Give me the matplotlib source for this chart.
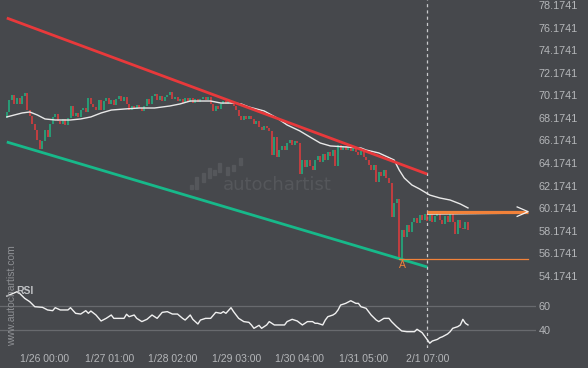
import numpy as np
import matplotlib.pyplot as plt
from matplotlib.collections import LineCollection
from matplotlib.patches import Rectangle

BG = '#46484c'
GREEN = '#1fb482'
RED = '#e53b3d'
ORANGE = '#f2823a'
TXT = '#b4b6b9'

# hourly candles, open of each bar = close of the bar before
first_open = 68.17
closes = [
    68.70, 69.76, 70.20, 69.41, 69.94, 69.41, 70.11, 70.38, 68.87, 68.34,
    67.63, 67.10, 66.22, 65.42, 66.13, 67.10, 66.48, 67.63, 68.25, 68.52,
    67.90, 67.63, 68.08, 67.55, 68.17, 69.23, 68.34, 68.61, 68.25, 68.87,
    69.05, 68.70, 69.94, 69.41, 69.14, 68.87, 69.76, 68.87, 69.67, 69.94,
    69.41, 69.76, 69.32, 69.85, 70.11, 69.67, 70.02, 69.41, 68.87, 69.23,
    68.96, 69.32, 69.05, 68.79, 69.23, 69.85, 69.41, 70.11, 70.29, 69.76,
    70.11, 69.67, 70.02, 70.20, 70.47, 69.85, 70.02, 69.67, 69.85, 69.49,
    69.94, 69.58, 69.94, 69.49, 69.85, 69.58, 69.85, 70.02, 69.76, 70.02,
    69.41, 68.79, 69.23, 68.96, 69.41, 69.67, 69.41, 69.67, 69.41, 69.23,
    68.87, 68.34, 67.99, 68.34, 68.08, 68.34, 68.08, 67.63, 67.90, 67.37,
    67.10, 67.46, 67.28, 67.02, 64.89, 66.48, 64.71, 65.33, 65.69, 65.33,
    65.95, 66.22, 65.78, 66.13, 65.95, 63.21, 64.45, 63.83, 64.45, 63.92,
    63.56, 64.45, 64.80, 64.27, 64.98, 64.45, 65.16, 64.80, 65.33, 63.92,
    65.78, 65.33, 65.69, 65.33, 65.60, 65.25, 65.51, 65.16, 64.89, 65.25,
    64.71, 64.45, 64.00, 63.56, 64.00, 62.50, 63.38, 63.03, 63.56, 62.85,
    62.41, 59.40, 60.63, 60.99, 55.70, 58.25, 57.62, 58.69, 58.07, 58.96,
    59.31, 58.87, 59.57, 59.13, 59.66, 59.05, 59.57, 58.96, 59.49, 59.75,
    59.13, 58.78, 59.49, 58.96, 59.66, 58.96, 57.90, 59.13, 58.43, 58.34,
    58.96, 58.25,
]

ma_idx = [0, 6, 9, 12, 15, 19, 25, 29, 33, 37, 41, 46, 52, 58, 64, 68, 72, 80,
          84, 89, 92, 95, 101, 106, 110, 115, 119, 123, 127, 133, 139, 141, 146,
          152, 154, 156, 159, 162, 166, 170, 174, 178, 181]
ma_val = [68.26, 68.61, 68.70, 68.43, 68.08, 67.99, 67.99, 68.08, 68.26, 68.61,
          68.87, 68.96, 69.05, 69.05, 69.23, 69.41, 69.67, 69.67, 69.49, 69.49,
          69.41, 69.14, 68.79, 68.17, 67.55, 67.02, 66.48, 65.95, 65.69, 65.60,
          65.51, 65.33, 65.07, 64.45, 63.56, 62.85, 62.23, 61.88, 61.34, 61.08,
          60.90, 60.55, 60.20]

rsi_idx = [0, 4, 5, 7, 9, 11, 14, 16, 18, 19, 21, 24, 25, 27, 29, 31, 32, 33,
           35, 37, 39, 41, 42, 46, 47, 48, 50, 51, 53, 55, 57, 59, 61, 63, 65,
           67, 69, 70, 72, 73, 75, 76, 78, 80, 82, 84, 85, 86, 88, 89, 91, 93,
           95, 96, 97, 99, 100, 102, 103, 105, 107, 109, 110, 112, 114, 116,
           117, 118, 120, 121, 122, 124, 125, 126, 128, 129, 130, 131, 133, 135,
           137, 138, 139, 141, 143, 145, 146, 148, 150, 151, 153, 155, 157, 160,
           161, 163, 165, 166, 167, 169, 170, 171, 173, 174, 175, 177, 178, 179,
           180, 181]
rsi_val = [68.3, 71.9, 70.6, 66.4, 63.6, 59.4, 58.9, 56.7, 56.1, 58.6, 56.7,
           56.7, 58.6, 53.9, 53.3, 56.1, 53.9, 55.8, 52.5, 47.5, 49.7, 52.5,
           49.7, 49.7, 53.1, 51.1, 52.5, 49.7, 47.0, 48.9, 52.5, 49.7, 54.7,
           55.3, 53.3, 53.3, 49.7, 48.3, 52.5, 48.9, 45.0, 48.3, 49.7, 49.7,
           54.7, 53.9, 55.3, 53.9, 58.6, 55.3, 49.7, 47.0, 46.4, 44.2, 41.4,
           43.9, 41.4, 44.2, 47.0, 44.2, 44.2, 44.2, 47.0, 48.9, 47.5, 44.2,
           45.6, 47.0, 47.0, 45.6, 45.6, 44.2, 48.3, 51.1, 52.5, 53.9, 56.7,
           60.8, 62.2, 64.4, 62.2, 62.2, 59.4, 58.1, 52.5, 48.3, 47.0, 49.7,
           49.7, 47.0, 42.8, 39.2, 38.6, 38.6, 40.6, 37.8, 32.0, 29.0, 30.8,
           32.2, 33.6, 34.4, 36.7, 38.6, 41.4, 42.8, 44.2, 48.9, 45.6, 44.2]

chan_idx = [0, 165]
upper_chan = [77.02, 63.20]
lower_chan = [66.04, 54.97]

resistance = 59.87
a_low = 55.67
a_idx = 154
signal_idx = 165
arrow_end = 204.6

price_ticks = np.arange(54.1741, 78.2, 2)
rsi_ticks = [40, 60]
time_idx = [15, 40.5, 65, 90.3, 115, 140.2, 165]
time_labels = ['1/26 00:00', '1/27 01:00', '1/28 02:00', '1/29 03:00',
               '1/30 04:00', '1/31 05:00', '2/1 07:00']

plt.rcParams['font.family'] = ['Liberation Sans', 'DejaVu Sans']

W, H = 588, 368
fig = plt.figure(figsize=(W / 100, H / 100), dpi=100, facecolor=BG)
ax = fig.add_axes([0, 1 - 288 / H, 536 / W, 288 / H], facecolor=BG)
rax = fig.add_axes([0, 1 - 348 / H, 536 / W, 60 / H], facecolor=BG, sharex=ax)

for a in (ax, rax):
    for s in a.spines.values():
        s.set_visible(False)
    a.yaxis.tick_right()
    a.tick_params(axis='y', length=0, pad=2, labelsize=7.8, labelcolor=TXT)
    a.set_xlim(-2.67, 207.7)

# watermark logo + text (drawn first so everything sits on top)
def px_rect(x, y, w, h):
    fig.patches.append(Rectangle((x / W, 1 - (y + h) / H), w / W, h / H,
                                 transform=fig.transFigure, color='#55575b',
                                 zorder=0))

logo = [(190, 185, 4), (195, 177, 12), (202, 173, 9), (208, 168, 10),
        (213, 170, 5), (218, 163, 9), (226, 167, 8), (232, 165, 6),
        (239, 158, 7)]
for x, y, h in logo:
    px_rect(x, y, 3, h)
fig.text(223 / W, 1 - 185 / H, 'autochartist', color='#55575b', fontsize=13,
         family='DejaVu Sans', va='center', ha='left', zorder=0)

# candles
closes = np.array(closes)
opens = np.concatenate([[first_open], closes[:-1]])
idx = np.arange(len(closes))
cols = np.where(closes >= opens, GREEN, RED)
ax.vlines(idx, opens, closes, colors=cols, linewidth=1.1, zorder=3)

ax.plot(ma_idx, ma_val, color='#e8e8e8', lw=1.0, zorder=4)

# channel
ax.plot(chan_idx, upper_chan, color='#e8393b', lw=2.0, zorder=5,
        solid_capstyle='butt')
ax.plot(chan_idx, lower_chan, color='#17b98a', lw=2.0, zorder=5,
        solid_capstyle='butt')

# breakout level + arrow
xs = np.linspace(signal_idx, arrow_end - 10, 40)
segs = [[(xs[k], resistance - 0.22), (xs[k + 1], resistance - 0.22)]
        for k in range(len(xs) - 1)]
lc = LineCollection(segs, colors=[(1, 1, 1, 0.9 * (1 - k / len(segs)))
                                  for k in range(len(segs))], linewidths=1.2,
                    zorder=6)
ax.add_collection(lc)
ax.plot([signal_idx, arrow_end], [resistance, resistance], color=ORANGE,
        lw=2.3, zorder=7, solid_capstyle='butt')
ax.plot([arrow_end - 4.3, arrow_end, arrow_end - 4.3],
        [resistance + 0.42, resistance, resistance - 0.42],
        color='#f2f2f2', lw=0.9, zorder=8)

ax.plot([a_idx, arrow_end], [a_low, a_low], color=ORANGE, lw=0.9, zorder=6)
ax.text(a_idx + 1.2, a_low - 0.55, 'A', color=ORANGE, fontsize=7.5,
        ha='center', va='center', zorder=8)

ax.set_ylim(53.108, 78.617)
ax.set_yticks(price_ticks)
ax.set_yticklabels(['%.4f' % v for v in price_ticks])
ax.tick_params(axis='x', bottom=False, labelbottom=False)

for a in (ax, rax):
    a.axvline(signal_idx, color='#c9cacc', lw=0.9, ls=(0, (2.5, 2.5)), zorder=2)

# RSI panel
rax.set_ylim(25, 75)
rax.set_yticks(rsi_ticks)
rax.grid(axis='y', color='#686a6e', lw=0.9)
rax.plot(rsi_idx, rsi_val, color='#f0f0f0', lw=1.0, zorder=4)
rax.set_xticks(time_idx)
rax.set_xticklabels(time_labels)
rax.tick_params(axis='x', length=0, pad=4.5, labelsize=7.5, labelcolor=TXT)
fig.text(16 / W, 1 - 291 / H, 'RSI', color='#c0c2c5', fontsize=7.5,
         fontweight='bold', ha='left', va='center', zorder=5)

fig.text(12 / W, 1 - 346 / H, 'www.autochartist.com', rotation=90,
         color='#8e9094', fontsize=7.5, ha='center', va='bottom')

fig.savefig('out.png', dpi=100, facecolor=BG)
